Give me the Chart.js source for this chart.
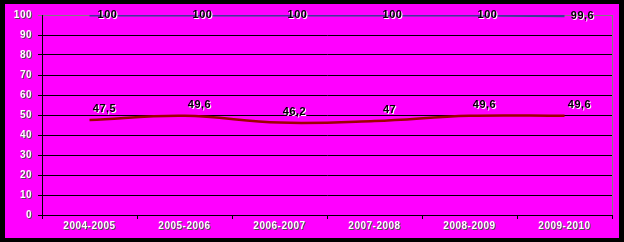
<!DOCTYPE html>
<html>
<head>
<meta charset="utf-8">
<script src="https://cdn.jsdelivr.net/npm/chart.js@4"></script>
<style>
  html, body { margin: 0; padding: 0; background: #000; }
  canvas { display: block; }
</style>
</head>
<body>
<canvas id="graphique" width="624" height="242"></canvas>
<script>
// ----- Données -----
const annees = ['2004-2005', '2005-2006', '2006-2007', '2007-2008', '2008-2009', '2009-2010'];
const serieHaute = [100, 100, 100, 100, 100, 99.6];
const serieBasse = [47.5, 49.6, 46.2, 47, 49.6, 49.6];
const echelleMin = 0;
const echelleMax = 100;
const echellePas = 10;

const formatVirgule = v => String(v).replace('.', ',');

// fond noir + cadre magenta
const fondPlugin = {
  id: 'fond',
  beforeDraw(chart) {
    const ctx = chart.ctx;
    ctx.save();
    ctx.fillStyle = '#000000';
    ctx.fillRect(0, 0, chart.width, chart.height);
    ctx.fillStyle = '#ff00ff';
    ctx.fillRect(5, 4, 614, 234);
    ctx.restore();
  },
  beforeDatasetsDraw(chart) {
    // bordure grise à droite de la zone de tracé
    const a = chart.chartArea;
    const ctx = chart.ctx;
    ctx.save();
    ctx.strokeStyle = '#808080';
    ctx.lineWidth = 1;
    ctx.beginPath();
    ctx.moveTo(Math.round(a.right) + 0.5, a.top);
    ctx.lineTo(Math.round(a.right) + 0.5, a.bottom);
    ctx.stroke();
    ctx.restore();
  }
};

// étiquettes des axes (texte clair avec ombre)
const axesPlugin = {
  id: 'axesTexte',
  afterDraw(chart) {
    const ctx = chart.ctx;
    const sx = chart.scales.x;
    const sy = chart.scales.y;
    ctx.save();
    ctx.font = 'bold 10px "Liberation Sans", Arial, sans-serif';
    ctx.letterSpacing = '0.5px';
    ctx.textBaseline = 'middle';
    ctx.textAlign = 'right';
    sy.ticks.forEach((t, i) => {
      const y = sy.getPixelForTick(i);
      const txt = String(t.value);
      ctx.fillStyle = '#505050';
      ctx.fillText(txt, 33, y + 1);
      ctx.fillStyle = '#ffffff';
      ctx.fillText(txt, 32, y);
    });
    ctx.textAlign = 'center';
    annees.forEach((lab, i) => {
      const x = sx.getPixelForValue(i);
      ctx.fillStyle = '#505050';
      ctx.fillText(lab, x + 1, 227);
      ctx.fillStyle = '#ffffff';
      ctx.fillText(lab, x, 226);
    });
    ctx.restore();
  }
};

// étiquettes de données
const etiquettesPlugin = {
  id: 'etiquettes',
  afterDatasetsDraw(chart) {
    const ctx = chart.ctx;
    const decalages = [{ dx: 18, dy: 0 }, { dx: 15, dy: -11 }];
    ctx.save();
    ctx.font = 'bold 11px "Liberation Sans", Arial, sans-serif';
    ctx.letterSpacing = '0.5px';
    ctx.textAlign = 'center';
    ctx.textBaseline = 'middle';
    chart.data.datasets.forEach((ds, di) => {
      const meta = chart.getDatasetMeta(di);
      meta.data.forEach((pt, i) => {
        const txt = formatVirgule(ds.data[i]);
        const x = pt.x + decalages[di].dx;
        const y = pt.y + decalages[di].dy;
        ctx.fillStyle = '#ffffff';
        ctx.fillText(txt, x + 1, y + 1);
        ctx.fillStyle = '#000000';
        ctx.fillText(txt, x, y);
      });
    });
    ctx.restore();
  }
};

const ctx = document.getElementById('graphique').getContext('2d');
new Chart(ctx, {
  type: 'line',
  data: {
    labels: annees,
    datasets: [
      {
        label: 'Série 1',
        data: serieHaute,
        borderColor: '#3c3c96',
        borderWidth: 3,
        pointRadius: 0,
        tension: 0,
        clip: { left: 5, top: 0, right: 5, bottom: 5 }
      },
      {
        label: 'Série 2',
        data: serieBasse,
        borderColor: '#9c0000',
        borderWidth: 2.5,
        pointRadius: 0,
        tension: 0.4,
        clip: false
      }
    ]
  },
  options: {
    responsive: false,
    animation: false,
    layout: { padding: { left: 5, top: 15, right: 12, bottom: 6 } },
    plugins: {
      legend: { display: false },
      tooltip: { enabled: false },
      title: { display: false }
    },
    scales: {
      x: {
        offset: true,
        grid: {
          offset: true,
          drawOnChartArea: false,
          drawTicks: true,
          tickLength: 4,
          color: '#000000'
        },
        border: { display: true, color: '#000000', width: 1 },
        ticks: { display: false },
        afterFit: s => { s.height = 21; }
      },
      y: {
        min: echelleMin,
        max: echelleMax,
        ticks: { display: false, stepSize: echellePas },
        grid: {
          drawTicks: true,
          tickLength: 4,
          color: c => (c.tick && c.tick.value === echelleMax ? '#808080' : '#000000'),
          lineWidth: 1
        },
        border: { display: true, color: '#000000', width: 1 },
        afterFit: s => { s.width = 37; }
      }
    }
  },
  plugins: [fondPlugin, axesPlugin, etiquettesPlugin]
});
</script>
</body>
</html>
